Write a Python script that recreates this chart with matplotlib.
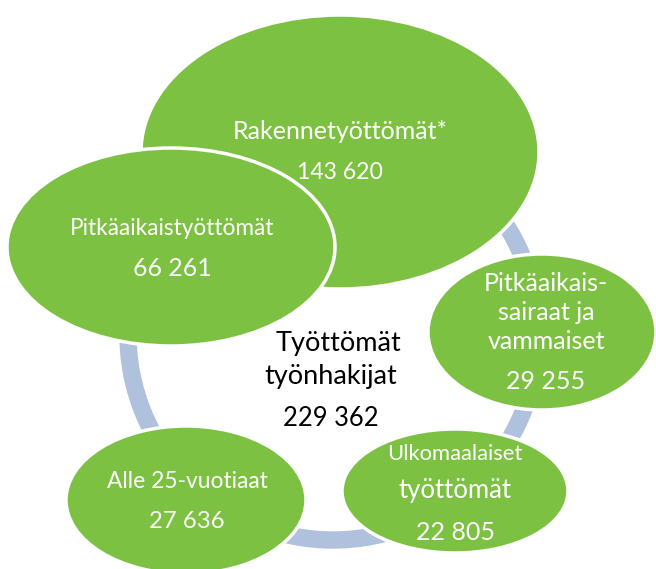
import matplotlib
matplotlib.use("Agg")
import matplotlib.pyplot as plt
from matplotlib.patches import Ellipse, Circle

# ---- data ----
center_label = ["Työttömät", "työnhakijat"]
center_value = 229362
categories = ["Rakennetyöttömät*", "Pitkäaikaistyöttömät",
              "Pitkäaikais-\nsairaat ja\nvammaiset",
              "Ulkomaalaiset\ntyöttömät", "Alle 25-vuotiaat"]
values = [143620, 66261, 29255, 22805, 27636]

# ---- layout (pixel coordinates) ----
W, H = 656, 569
green = "#7DC143"
ring_col = "#B0C1DD"

# (cx, cy, half-width, half-height)
shapes = [
    (340, 152, 199, 137),
    (171, 247, 164, 99),
    (542, 332, 114, 78),
    (455, 491, 113, 62),
    (186, 500, 120, 74),
]
text_x = [340, 172, 546, 455, 187]
line_y = [[131], [228], [283, 312, 341], [454, 490], [481]]
line_fs = [[18], [16.3], [18, 18, 18], [15.8, 18.5], [16.4]]
value_y = [172, 268, 381, 532, 522]
value_fs = [16.6, 17.8, 18, 18, 17.2]

fig = plt.figure(figsize=(W / 100, H / 100), dpi=100)
ax = fig.add_axes([0, 0, 1, 1])
ax.set_xlim(0, W)
ax.set_ylim(H, 0)
ax.set_aspect("equal")
ax.axis("off")

font = "Lato"

# ring
ax.add_patch(Circle((333, 335), 205, fill=False, edgecolor=ring_col,
                    linewidth=12.5, zorder=1))

for i in range(len(categories)):
    cx, cy, a, b = shapes[i]
    ax.add_patch(Ellipse((cx, cy), 2 * a, 2 * b, facecolor=green,
                         edgecolor="white", linewidth=2.5, zorder=2 + i))

def fmt(v):
    return f"{v:,}".replace(",", " ")

for i, (lab, val) in enumerate(zip(categories, values)):
    for line, y, fs in zip(lab.split("\n"), line_y[i], line_fs[i]):
        ax.text(text_x[i], y, line, ha="center", va="center",
                color="white", fontsize=fs, family=font, zorder=10)
    ax.text(text_x[i], value_y[i], fmt(val), ha="center", va="center",
            color="white", fontsize=value_fs[i], family=font, zorder=10)

ax.text(338, 343, center_label[0], ha="center", va="center",
        color="black", fontsize=19.5, family=font, zorder=10)
ax.text(331, 376, center_label[1], ha="center", va="center",
        color="black", fontsize=19.5, family=font, zorder=10)
ax.text(331, 418, fmt(center_value), ha="center", va="center",
        color="black", fontsize=18.4, family=font, zorder=10)

fig.savefig("out.png", dpi=100)
